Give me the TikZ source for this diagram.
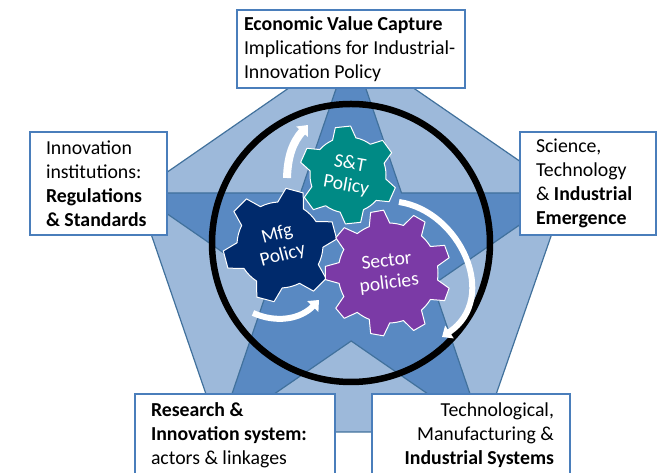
\documentclass[tikz,border=0pt]{standalone}
\usepackage{fontspec}
\setmainfont{Carlito}
\usepackage{xcolor}
\usetikzlibrary{arrows.meta}

\definecolor{penlight}{HTML}{9DB9DA}
\definecolor{pendark}{HTML}{5989C2}
\definecolor{penline}{HTML}{41719C}
\definecolor{boxline}{HTML}{4A7EBB}
\definecolor{gearteal}{HTML}{008A85}
\definecolor{gearnavy}{HTML}{002A6C}
\definecolor{gearpurple}{HTML}{7B3AA6}

% centre, teeth, inner radius, outer radius, rotation, colour
\newcommand{\drawgear}[6]{
  \pgfmathsetmacro{\gstep}{360/#2}
  \pgfmathsetmacro{\gbase}{0.3*\gstep}
  \pgfmathsetmacro{\gtip}{0.15*\gstep}
  \draw[gearline, fill=#6, shift={(#1)}] ({#5-\gbase}:#3)
    foreach \k in {1,...,#2} {
      -- ({#5+(\k-1)*\gstep-\gtip}:#4)
      -- ({#5+(\k-1)*\gstep+\gtip}:#4)
      -- ({#5+(\k-1)*\gstep+\gbase}:#3)
      arc[start angle={#5+(\k-1)*\gstep+\gbase}, delta angle={\gstep-2*\gbase}, radius=#3]
    } -- cycle;
}

\begin{document}
\begin{tikzpicture}[
    x=1pt, y=1pt,
    penshape/.style={draw=penline, line width=1.2pt, line join=round},
    gearline/.style={draw=white, line width=1pt, line join=round},
    geartext/.style={text=white, align=center, font=\fontsize{19.5}{22}\selectfont},
    turnarrow/.style={draw=white, -{Triangle[width=15pt,length=9pt]}},
    infobox/.style={draw=boxline, fill=white, line width=1.6pt, rectangle, inner ysep=0pt,
      font=\fontsize{19.8}{24}\selectfont}
]
\useasboundingbox (0,0) rectangle (657,473);
\clip (0,0) rectangle (657,473);

\coordinate (ptop) at (351,428);
\coordinate (pright) at (566,280);
\coordinate (pbr) at (483,41);
\coordinate (pbl) at (219,41);
\coordinate (pleft) at (137,280);

% inner corners of the star
\coordinate (sa) at (401.5,280);
\coordinate (sb) at (432.8,188.3);
\coordinate (sc) at (351.2,132);
\coordinate (sd) at (269.3,188.6);
\coordinate (se) at (300.5,280);

\coordinate (stc) at (348,298);
\coordinate (mfgc) at (280,228);
\coordinate (secc) at (388,200);

% pentagon and star
\draw[penshape, fill=penlight] (ptop) -- (pright) -- (pbr) -- (pbl) -- (pleft) -- cycle;
\draw[penshape, fill=pendark] (ptop) -- (sa) -- (pright) -- (sb) -- (pbr) -- (sc) -- (pbl) -- (sd) -- (pleft) -- (se) -- cycle;

\coordinate (ringc) at (351,230);
\draw[black, line width=6.5pt] (ringc) circle (139);

% turning arrows
\coordinate (aonea) at (287,295);
\coordinate (aoneb) at (308,348);
\coordinate (atwoa) at (253,160);
\coordinate (atwob) at (319,173);
\coordinate (athreea) at (399,271);
\coordinate (athreeb) at (442,136);
\draw[turnarrow, line width=8pt] (aonea) to[bend left=20] (aoneb);
\draw[turnarrow, line width=6pt] (atwoa) to[bend right=35] (atwob);
\draw[turnarrow, line width=6pt] (athreea) .. controls (460,262) and (500,175) .. (athreeb);

% gears
\drawgear{stc}{6}{38}{49}{-24}{gearteal}
\drawgear{mfgc}{6}{43}{57}{15}{gearnavy}
\drawgear{secc}{9}{50}{63}{20}{gearpurple}
\node[geartext, rotate=-10] (st) at (stc) {S\&T\\Policy};
\node[geartext, rotate=15] (mfg) at (mfgc) {Mfg\\Policy};
\node[geartext, rotate=7] (sec) at (secc) {Sector\\policies};

% boxes
\node[infobox, minimum height=78pt, text width=214pt, inner xsep=7pt, align=flush left] (capture) at (351,424)
  {\textbf{Economic Value Capture}\\Implications for Industrial-\\Innovation Policy};
\node[infobox, minimum height=103pt, text width=105pt, inner xsep=16pt, align=flush left] (institutions) at (98.5,289.5)
  {Innovation\\institutions:\\\textbf{Regulations}\\\textbf{\& Standards}};
\node[infobox, minimum height=103pt, text width=104pt, inner xsep=16pt, align=flush left] (emergence) at (588,289.5)
  {Science,\\Technology\\\& \textbf{Industrial}\\\textbf{Emergence}};
\node[infobox, minimum height=104pt, text width=168pt, inner xsep=16pt, align=flush left] (research) at (235,27)
  {\textbf{Research \&}\\\textbf{Innovation system:}\\actors \& linkages\\~};
\node[infobox, minimum height=104pt, text width=166pt, inner xsep=16pt, align=flush right] (systems) at (471,27)
  {Technological,\\Manufacturing \&\\\textbf{Industrial Systems}\\~};
\end{tikzpicture}
\end{document}
